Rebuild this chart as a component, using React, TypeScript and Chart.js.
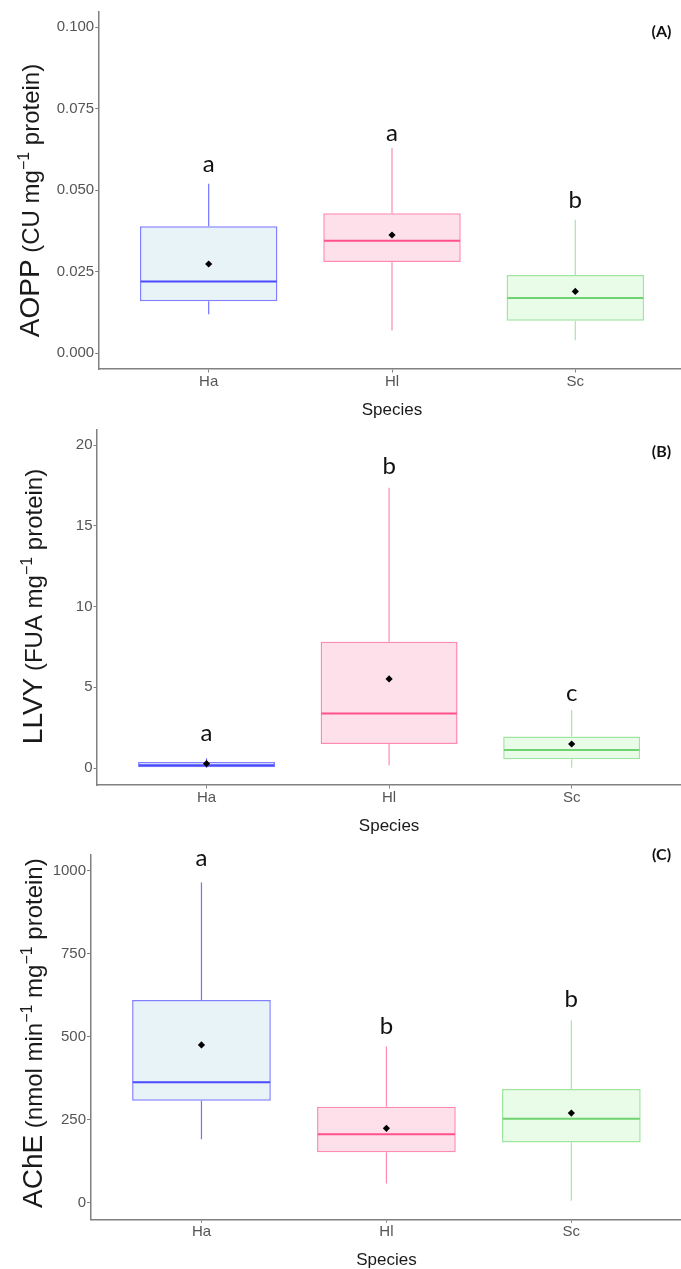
import React, { useEffect, useRef } from "react";
import { Chart, registerables } from "chart.js";
Chart.register(...registerables);

// ---------- data ----------
const species = ["Ha", "Hl", "Sc"];

// Panel A: AOPP
const aMin = [0.012, 0.007, 0.004];
const aQ1 = [0.016, 0.028, 0.010];
const aMed = [0.022, 0.0345, 0.017];
const aQ3 = [0.039, 0.043, 0.024];
const aMax = [0.052, 0.063, 0.041];
const aMean = [0.0274, 0.0363, 0.019];
const aLetters = ["a", "a", "b"];
const aLetterY = [0.0556, 0.0651, 0.0446];
const aTicks = [0, 0.025, 0.05, 0.075, 0.1];

// Panel B: LLVY
const bMin = [0.0, 0.15, 0.02];
const bQ1 = [0.05, 1.49, 0.55];
const bMed = [0.18, 3.37, 1.12];
const bQ3 = [0.37, 7.82, 1.95];
const bMax = [0.6, 17.36, 3.59];
const bMean = [0.27, 5.52, 1.49];
const bLetters = ["a", "b", "c"];
const bLetterY = [1.69, 18.23, 4.17];
const bTicks = [0, 5, 10, 15, 20];

// Panel C: AChE
const cMin = [191, 58, 6];
const cQ1 = [307, 152, 181];
const cMed = [363, 206, 253];
const cQ3 = [610, 289, 342];
const cMax = [964, 470, 549];
const cMean = [475, 224, 270];
const cLetters = ["a", "b", "b"];
const cLetterY = [1014, 508, 590];
const cTicks = [0, 250, 500, 750, 1000];

// ---------- styles ----------
const fills = ["#e8f3f8", "#fde0ea", "#e8fce8"];
const strokes = ["#8080ff", "#ff8ab0", "#9fe59f"];
const medianColors = ["#4a4aff", "#ff5089", "#6fd36f"];
const whiskerColors = ["#7272ff", "#ff8ab0", "#a6e8a6"];
const AXIS = "#808080";
const TICK_TXT = "#555555";
const SANS = "'Liberation Sans', Arial, sans-serif";
const LETTER_FONT = "Lato, 'Open Sans', sans-serif";
const W = 690;

type Panel = {
  key: string;
  top: number;
  height: number;
  padTop: number;
  padRight: number;
  xh: number;
  yw: number;
  yMin: number;
  yMax: number;
  ticks: number[];
  fmt: (v: number) => string;
  min: number[];
  q1: number[];
  med: number[];
  q3: number[];
  max: number[];
  mean: number[];
  letters: string[];
  letterY: number[];
  big: string;
  parts: [string, boolean][];
  titleX: number;
  titleShift: number;
  tag: string;
  tagY: number;
};

const panels: Panel[] = [
  {
    key: "A", top: 0, height: 420, padTop: 12, padRight: 4.7, xh: 51, yw: 98.7,
    yMin: -0.0048, yMax: 0.1047, ticks: aTicks, fmt: (v) => v.toFixed(3),
    min: aMin, q1: aQ1, med: aMed, q3: aQ3, max: aMax, mean: aMean,
    letters: aLetters, letterY: aLetterY,
    big: "AOPP", parts: [["(CU mg", false], ["\u22121", true], [" protein)", false]],
    titleX: 38.5, titleShift: 10, tag: "(A)", tagY: 32,
  },
  {
    key: "B", top: 420, height: 415, padTop: 4, padRight: 8.8, xh: 50, yw: 97,
    yMin: -1.05, yMax: 20.93, ticks: bTicks, fmt: (v) => String(Math.round(v)),
    min: bMin, q1: bQ1, med: bMed, q3: bQ3, max: bMax, mean: bMean,
    letters: bLetters, letterY: bLetterY,
    big: "LLVY", parts: [["(FUA mg", false], ["\u22121", true], [" protein)", false]],
    titleX: 41.5, titleShift: -1, tag: "(B)", tagY: 32,
  },
  {
    key: "C", top: 835, height: 434, padTop: 20, padRight: 7.7, xh: 49.7, yw: 90.5,
    yMin: -50, yMax: 1047, ticks: cTicks, fmt: (v) => String(Math.round(v)),
    min: cMin, q1: cQ1, med: cMed, q3: cQ3, max: cMax, mean: cMean,
    letters: cLetters, letterY: cLetterY,
    big: "AChE",
    parts: [["(nmol min", false], ["\u22121", true], [" mg", false], ["\u22121", true], [" protein)", false]],
    titleX: 41.5, titleShift: -4, tag: "(C)", tagY: 20,
  },
];

function BoxPanel({ p }: { p: Panel }) {
  const ref = useRef<HTMLCanvasElement>(null);
  useEffect(() => {
    const canvas = ref.current!;
    const boxPlugin = {
      id: "boxExtras" + p.key,
      beforeDatasetsDraw(chart: any) {
        const ctx = chart.ctx;
        const xs = chart.scales.x;
        const ys = chart.scales.y;
        ctx.save();
        p.q1.forEach((_, i) => {
          const x = xs.getPixelForValue(i);
          ctx.strokeStyle = whiskerColors[i];
          ctx.lineWidth = 1.2;
          ctx.beginPath();
          ctx.moveTo(x, ys.getPixelForValue(p.q3[i]));
          ctx.lineTo(x, ys.getPixelForValue(p.max[i]));
          ctx.moveTo(x, ys.getPixelForValue(p.q1[i]));
          ctx.lineTo(x, ys.getPixelForValue(p.min[i]));
          ctx.stroke();
        });
        ctx.restore();
      },
      afterDatasetDraw(chart: any, args: any) {
        if (args.index !== 0) return;
        const ctx = chart.ctx;
        const ys = chart.scales.y;
        const meta = chart.getDatasetMeta(0);
        ctx.save();
        meta.data.forEach((bar: any, i: number) => {
          const half = bar.width / 2;
          const y = ys.getPixelForValue(p.med[i]);
          ctx.strokeStyle = medianColors[i];
          ctx.lineWidth = 2;
          ctx.beginPath();
          ctx.moveTo(bar.x - half + 0.75, y);
          ctx.lineTo(bar.x + half - 0.75, y);
          ctx.stroke();
        });
        ctx.restore();
      },
      afterDraw(chart: any) {
        const ctx = chart.ctx;
        const xs = chart.scales.x;
        const ys = chart.scales.y;
        const area = chart.chartArea;
        ctx.save();
        // significance letters
        ctx.fillStyle = "#111";
        ctx.font = `24px ${LETTER_FONT}`;
        ctx.textAlign = "center";
        ctx.textBaseline = "alphabetic";
        p.letters.forEach((l, i) => {
          ctx.fillText(l, xs.getPixelForValue(i), ys.getPixelForValue(p.letterY[i]));
        });
        // panel tag
        ctx.font = `bold 16px ${LETTER_FONT}`;
        ctx.textBaseline = "middle";
        ctx.fillText(p.tag, 661.5, p.tagY);
        // x title
        ctx.font = `17px ${SANS}`;
        ctx.fillStyle = "#1a1a1a";
        ctx.textBaseline = "alphabetic";
        ctx.fillText("Species", (area.left + area.right) / 2, area.bottom + 45.5);
        // y title (rotated, mixed sizes)
        const bigFont = `28px ${SANS}`;
        const smallFont = `24px ${SANS}`;
        const supFont = `16px ${SANS}`;
        ctx.font = bigFont;
        const bigW = ctx.measureText(p.big).width;
        ctx.font = smallFont;
        const spaceW = ctx.measureText(" ").width;
        const widths = p.parts.map(([t, sup]) => {
          ctx.font = sup ? supFont : smallFont;
          return ctx.measureText(t).width;
        });
        const total = bigW + spaceW + widths.reduce((a, b) => a + b, 0);
        const cy = (area.top + area.bottom) / 2 + p.titleShift;
        ctx.translate(p.titleX, cy);
        ctx.rotate(-Math.PI / 2);
        ctx.textAlign = "left";
        let pos = -total / 2;
        ctx.font = bigFont;
        ctx.fillText(p.big, pos, 0);
        pos += bigW + spaceW;
        p.parts.forEach(([t, sup], k) => {
          ctx.font = sup ? supFont : smallFont;
          ctx.fillText(t, pos, sup ? -10 : 0);
          pos += widths[k];
        });
        ctx.restore();
      },
    };

    const chart = new Chart(canvas, {
      type: "bar",
      data: {
        datasets: [
          {
            type: "bar",
            data: species.map((_, i) => ({ x: i, y: [p.q1[i], p.q3[i]] })) as any,
            backgroundColor: fills,
            borderColor: strokes,
            borderWidth: 1.5,
            borderSkipped: false,
            barPercentage: 0.75,
            categoryPercentage: 1,
            order: 1,
          } as any,
          {
            type: "scatter",
            data: species.map((_, i) => ({ x: i, y: p.mean[i] })),
            pointStyle: "rectRot",
            pointRadius: 3.6,
            backgroundColor: "#000",
            borderColor: "#000",
            borderWidth: 0,
            order: 0,
          } as any,
        ],
      },
      options: {
        responsive: false,
        maintainAspectRatio: false,
        animation: false,
        devicePixelRatio: 1,
        layout: { padding: { top: p.padTop, right: p.padRight, left: 0, bottom: 0 } },
        plugins: { legend: { display: false }, tooltip: { enabled: false } },
        scales: {
          x: {
            type: "linear",
            min: -0.6,
            max: 2.6,
            offset: false,
            grid: { offset: false, drawOnChartArea: false, drawTicks: true, tickLength: 3.5, color: AXIS, lineWidth: 1 },
            border: { display: true, color: AXIS, width: 1.5 },
            ticks: {
              autoSkip: false,
              maxRotation: 0,
              padding: 0,
              color: TICK_TXT,
              font: { size: 15, family: SANS },
              callback: (v: any) => species[Math.round(Number(v))] ?? "",
            },
            afterBuildTicks: (s: any) => {
              s.ticks = species.map((_, i) => ({ value: i }));
            },
            afterFit: (s: any) => {
              s.height = p.xh;
            },
          },
          y: {
            type: "linear",
            min: p.yMin,
            max: p.yMax,
            grid: { offset: false, drawOnChartArea: false, drawTicks: true, tickLength: 3.5, color: AXIS, lineWidth: 1 },
            border: { display: true, color: AXIS, width: 1.5 },
            ticks: {
              padding: 1,
              color: TICK_TXT,
              font: { size: 15, family: SANS },
              callback: (v: any) => p.fmt(Number(v)),
            },
            afterBuildTicks: (s: any) => {
              s.ticks = p.ticks.map((v) => ({ value: v }));
            },
            afterFit: (s: any) => {
              s.width = p.yw;
            },
          },
        },
      } as any,
      plugins: [boxPlugin],
    });
    return () => chart.destroy();
  }, []);
  return (
    <canvas
      ref={ref}
      width={W}
      height={p.height}
      style={{ position: "absolute", left: 0, top: p.top, width: W, height: p.height }}
    />
  );
}

export default function App() {
  return (
    <div
      style={{
        position: "absolute",
        left: 0,
        top: 0,
        width: 681,
        height: 1269,
        overflow: "hidden",
        background: "#ffffff",
      }}
    >
      {panels.map((p) => (
        <BoxPanel key={p.key} p={p} />
      ))}
    </div>
  );
}
